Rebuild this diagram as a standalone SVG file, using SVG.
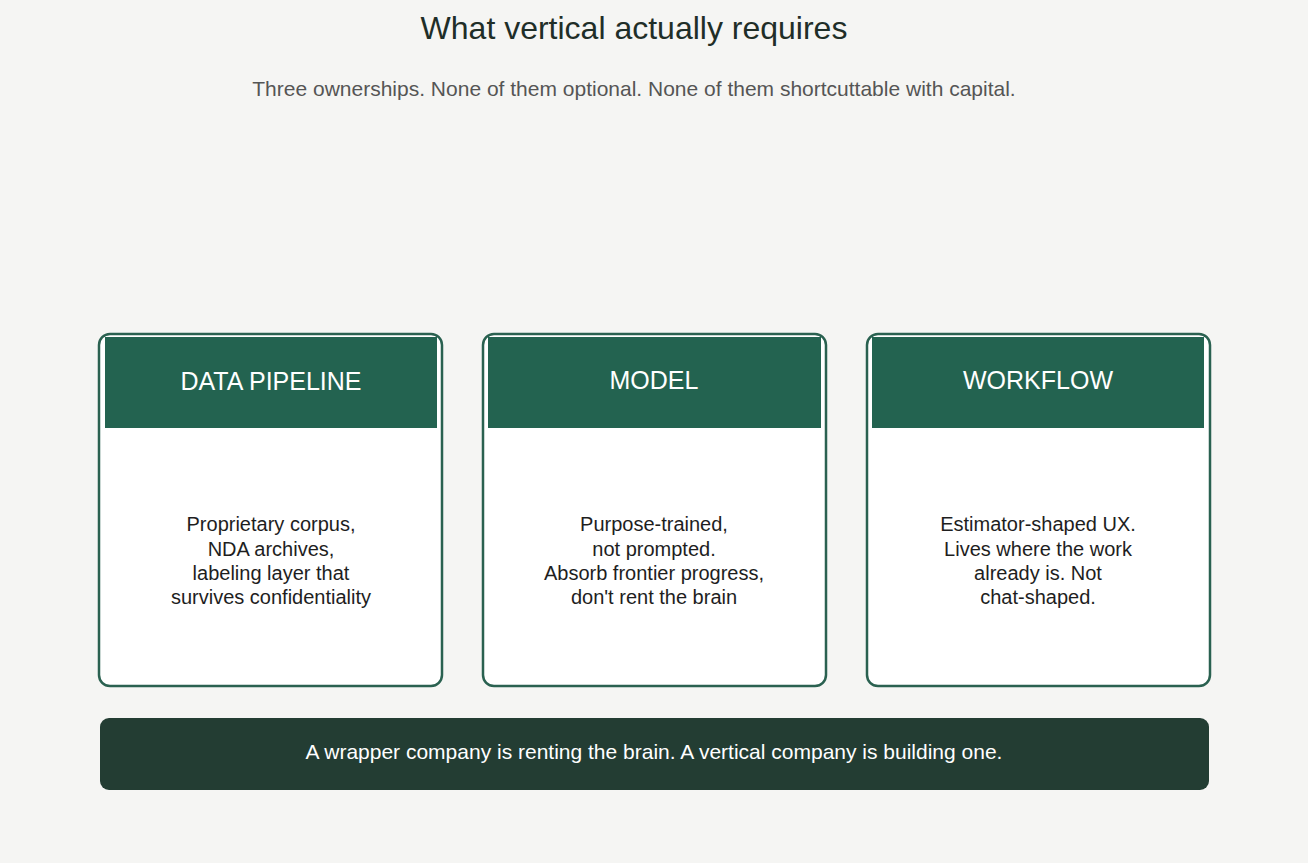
<svg xmlns="http://www.w3.org/2000/svg" width="1308" height="863" viewBox="0 0 1308 863">
<style>
text{font-family:"Liberation Sans",Arial,sans-serif;text-anchor:middle}
.card{fill:#fff;stroke:#2a6150;stroke-width:2.5}
.hdr{fill:#236350}
.ht{fill:#fff;font-size:25px}
.bt{fill:#1e1e1e;font-size:20px}
</style>
<rect width="1308" height="863" fill="#f5f5f3"/>
<text x="634" y="39" font-size="32" fill="#1f2e28">What vertical actually requires</text>
<text x="634" y="96" font-size="21" fill="#555">Three ownerships. None of them optional. None of them shortcuttable with capital.</text>
<g id="node-data">
<rect class="card" x="99" y="334" width="343" height="352" rx="11"/>
<rect class="hdr" x="105" y="337" width="332" height="91"/>
<text class="ht" x="271" y="390">DATA PIPELINE</text>
<text class="bt" x="271" y="531">Proprietary corpus,</text>
<text class="bt" x="271" y="556">NDA archives,</text>
<text class="bt" x="271" y="580">labeling layer that</text>
<text class="bt" x="271" y="604">survives confidentiality</text>
</g>
<g id="node-model">
<rect class="card" x="483" y="334" width="343" height="352" rx="11"/>
<rect class="hdr" x="488" y="337" width="333" height="91"/>
<text class="ht" x="654" y="389">MODEL</text>
<text class="bt" x="654" y="531">Purpose-trained,</text>
<text class="bt" x="654" y="556">not prompted.</text>
<text class="bt" x="654" y="580">Absorb frontier progress,</text>
<text class="bt" x="654" y="604">don't rent the brain</text>
</g>
<g id="node-workflow">
<rect class="card" x="867" y="334" width="343" height="352" rx="11"/>
<rect class="hdr" x="872" y="337" width="332" height="91"/>
<text class="ht" x="1038" y="389">WORKFLOW</text>
<text class="bt" x="1038" y="531">Estimator-shaped UX.</text>
<text class="bt" x="1038" y="556">Lives where the work</text>
<text class="bt" x="1038" y="580">already is. Not</text>
<text class="bt" x="1038" y="604">chat-shaped.</text>
</g>
<g id="node-banner">
<rect x="100" y="718" width="1109" height="72" rx="9" fill="#233d33"/>
<text x="654" y="759" font-size="21" fill="#fff">A wrapper company is renting the brain. A vertical company is building one.</text>
</g>
<g id="connectors"/>
</svg>
